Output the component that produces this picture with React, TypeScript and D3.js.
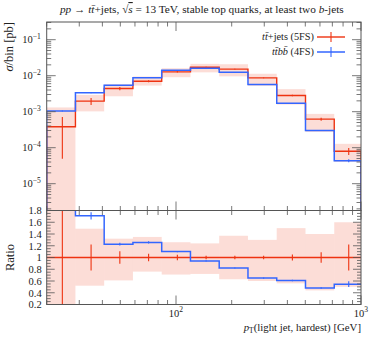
import React from "react";
import * as d3 from "d3";

// bin edges in pT [GeV]
const binEdges = [20, 28.6, 40.9, 58.5, 83.7, 119.7, 171.2, 244.9, 350.3, 501.1, 716.8, 1000];

// tt+jets (5FS), sigma/bin [pb]
const ttjets = [3.8e-4, 1.96e-3, 4.4e-3, 7.0e-3, 1.28e-2, 1.72e-2, 1.52e-2, 8.7e-3, 2.82e-3, 6.2e-4, 8.0e-5];
const ttjetsRelErr = [0.87, 0.22, 0.105, 0.062, 0.048, 0.03, 0.03, 0.03, 0.05, 0.09, 0.22];
// uncertainty band, relative to central value
const ttjetsBandLo = [0, 0.52, 0.61, 0.76, 0.71, 0.72, 0.63, 0.6, 0.56, 0.44, 0.5];
const ttjetsBandHi = [3.45, 1.49, 1.32, 1.35, 1.26, 1.24, 1.37, 1.3, 1.5, 1.4, 1.6];

// ttbb (4FS)
const ttbb = [1.05e-3, 3.35e-3, 5.4e-3, 8.8e-3, 1.41e-2, 1.62e-2, 1.25e-2, 5.65e-3, 1.72e-3, 2.98e-4, 4.36e-5];
const ttbbRelErr = [0.03, 0.036, 0.02, 0.015, 0.01, 0.01, 0.01, 0.015, 0.02, 0.03, 0.09];

const yTickExponents = [-1, -2, -3, -4, -5];
const ratioTickLabels = ["0.2", "0.4", "0.6", "0.8", "1", "1.2", "1.4", "1.6", "1.8"];
const xTickExponents = [2, 3];

const RED = "#EE3311";
const BLUE = "#3366FF";
const FRAME = "#555";
const FONT = "'Liberation Serif', 'DejaVu Serif', serif";

const L = 46.7, R = 361;
const mainTop = 22, mainBottom = 210.5;
const ratioTop = 210.5, ratioBottom = 304.5;

const x = d3.scaleLog().domain([20, 1000]).range([L, R]);
const y = d3.scaleLog().domain([1.8e-6, 0.31]).range([mainBottom, mainTop]);
const yr = d3.scaleLinear().domain([0.2, 1.8]).range([ratioBottom, ratioTop]);

const bins = ttjets.map((v, i) => ({ lo: binEdges[i], hi: binEdges[i + 1], mid: (binEdges[i] + binEdges[i + 1]) / 2 }));

const stepPoints = (vals: number[], base: number | null) => {
  const pts: [number, number][] = [];
  if (base !== null) pts.push([binEdges[0], base]);
  vals.forEach((v, i) => {
    pts.push([binEdges[i], v]);
    pts.push([binEdges[i + 1], v]);
  });
  if (base !== null) pts.push([binEdges[binEdges.length - 1], base]);
  return pts;
};

const floorV = 1e-9;
const lineMain = d3.line<[number, number]>().x((d) => x(d[0])).y((d) => y(Math.max(d[1], floorV)));
const lineRatio = d3.line<[number, number]>().x((d) => x(d[0])).y((d) => Math.max(Math.min(yr(d[1]), ratioBottom + 50), ratioTop - 50));

const ratioBlue = ttbb.map((v, i) => v / ttjets[i]);

const Sup = ({ base, exp, size }: { base: string; exp: string; size: number }) => (
  <>
    {base}
    <tspan dy={-size * 0.45} fontSize={size * 0.72}>{exp}</tspan>
  </>
);

const XTicks = ({ top, bottom }: { top: number; bottom: number }) => {
  const vals: number[] = [];
  [10, 100].forEach((dec) => {
    for (let m = 1; m <= 9; m++) {
      const v = dec * m;
      if (v >= 20 && v <= 1000) vals.push(v);
    }
  });
  vals.push(1000);
  return (
    <g stroke={FRAME} strokeWidth={0.8}>
      {vals.map((v) => {
        const major = Math.abs(Math.log10(v) % 1) < 1e-6;
        const len = major ? 9 : 4.5;
        return (
          <g key={v}>
            <line x1={x(v)} x2={x(v)} y1={top} y2={top + len} />
            <line x1={x(v)} x2={x(v)} y1={bottom} y2={bottom - len} />
          </g>
        );
      })}
    </g>
  );
};

const App = () => {
  const yTicks: { v: number; major: boolean }[] = [];
  for (let e = -6; e <= -1; e++) {
    for (let m = 1; m <= 9; m++) {
      const v = m * Math.pow(10, e);
      if (v >= 1.8e-6 && v <= 0.31) yTicks.push({ v, major: m === 1 });
    }
  }
  const ratioMinor = d3.range(0.2, 1.8001, 0.05);

  return (
    <svg width={374} height={337} style={{ position: "absolute", left: 0, top: 0, background: "#fff" }} fontFamily={FONT}>
      <defs>
        <clipPath id="clipMain">
          <rect x={L} y={mainTop} width={R - L} height={mainBottom - mainTop} />
        </clipPath>
        <clipPath id="clipRatio">
          <rect x={L} y={ratioTop} width={R - L} height={ratioBottom - ratioTop} />
        </clipPath>
      </defs>

      {/* title */}
      <text x={(L + R) / 2 - 2} y={13} textAnchor="middle" fontSize={11.3} fill="#222">
        <tspan fontStyle="italic">pp</tspan> → <tspan fontStyle="italic">t</tspan><tspan fontStyle="italic">t̄</tspan>+jets, √<tspan fontStyle="italic" textDecoration="overline">s</tspan> = 13 TeV, stable top quarks, at least two <tspan fontStyle="italic">b</tspan>-jets
      </text>

      {/* main panel */}
      <g clipPath="url(#clipMain)">
        {bins.map((b, i) => (
          <rect key={i} x={x(b.lo)} width={x(b.hi) - x(b.lo)}
            y={y(ttjets[i] * ttjetsBandHi[i])}
            height={y(Math.max(ttjets[i] * ttjetsBandLo[i], floorV)) - y(ttjets[i] * ttjetsBandHi[i])}
            fill={RED} fillOpacity={0.17} />
        ))}
        <path d={lineMain(stepPoints(ttjets, floorV)) || ""} fill="none" stroke={RED} strokeWidth={1.4} />
        {bins.map((b, i) => (
          <line key={i} x1={x(b.mid)} x2={x(b.mid)} y1={y(ttjets[i] * (1 + ttjetsRelErr[i]))}
            y2={y(Math.max(ttjets[i] * (1 - ttjetsRelErr[i]), floorV))} stroke={RED} strokeWidth={1.1} />
        ))}
        <path d={lineMain(stepPoints(ttbb, floorV)) || ""} fill="none" stroke={BLUE} strokeWidth={1.5} />
        {bins.map((b, i) => (
          <line key={i} x1={x(b.mid)} x2={x(b.mid)} y1={y(ttbb[i] * (1 + ttbbRelErr[i]))}
            y2={y(ttbb[i] * (1 - ttbbRelErr[i]))} stroke={BLUE} strokeWidth={1.1} />
        ))}
      </g>

      {/* ratio panel */}
      <g clipPath="url(#clipRatio)">
        {bins.map((b, i) => (
          <rect key={i} x={x(b.lo)} width={x(b.hi) - x(b.lo)}
            y={Math.max(yr(ttjetsBandHi[i]), ratioTop - 5)}
            height={Math.min(yr(ttjetsBandLo[i]), ratioBottom + 5) - Math.max(yr(ttjetsBandHi[i]), ratioTop - 5)}
            fill={RED} fillOpacity={0.17} />
        ))}
        <path d={lineRatio(stepPoints(ttjets.map(() => 1), null)) || ""} fill="none" stroke={RED} strokeWidth={1.4} />
        {bins.map((b, i) => (
          <line key={i} x1={x(b.mid)} x2={x(b.mid)} y1={Math.max(yr(1 + ttjetsRelErr[i]), ratioTop - 5)}
            y2={Math.min(yr(1 - ttjetsRelErr[i]), ratioBottom + 5)} stroke={RED} strokeWidth={1.1} />
        ))}
        <path d={lineRatio(stepPoints(ratioBlue, null)) || ""} fill="none" stroke={BLUE} strokeWidth={1.5} />
        {bins.map((b, i) => (
          <line key={i} x1={x(b.mid)} x2={x(b.mid)} y1={yr(ratioBlue[i] * (1 + ttbbRelErr[i]))}
            y2={yr(ratioBlue[i] * (1 - ttbbRelErr[i]))} stroke={BLUE} strokeWidth={1.1} />
        ))}
      </g>

      {/* main y ticks */}
      <g stroke={FRAME} strokeWidth={0.8}>
        {yTicks.map((t, i) => {
          const len = t.major ? 9 : 4.5;
          return (
            <g key={i}>
              <line x1={L} x2={L + len} y1={y(t.v)} y2={y(t.v)} />
              <line x1={R} x2={R - len} y1={y(t.v)} y2={y(t.v)} />
            </g>
          );
        })}
      </g>
      {yTickExponents.map((e) => (
        <text key={e} x={L - 6} y={y(Math.pow(10, e)) + 3.8} textAnchor="end" fontSize={10.5} fill="#222">
          <Sup base="10" exp={`−${-e}`} size={10.5} />
        </text>
      ))}

      {/* ratio y ticks */}
      <g stroke={FRAME} strokeWidth={0.8}>
        {ratioMinor.map((v, i) => {
          const major = i % 4 === 0;
          const len = major ? 8 : 4;
          return (
            <g key={i}>
              <line x1={L} x2={L + len} y1={yr(v)} y2={yr(v)} />
              <line x1={R} x2={R - len} y1={yr(v)} y2={yr(v)} />
            </g>
          );
        })}
      </g>
      {ratioTickLabels.map((s) => (
        <text key={s} x={L - 5} y={yr(+s) + 3.8} textAnchor="end" fontSize={10.5} fill="#222">{s}</text>
      ))}

      <XTicks top={mainTop} bottom={mainBottom} />
      <XTicks top={ratioTop} bottom={ratioBottom} />
      {xTickExponents.map((e) => (
        <text key={e} x={x(Math.pow(10, e))} y={317} textAnchor="middle" fontSize={10.5} fill="#222">
          <Sup base="10" exp={`${e}`} size={10.5} />
        </text>
      ))}

      {/* frames */}
      <rect x={L} y={mainTop} width={R - L} height={mainBottom - mainTop} fill="none" stroke={FRAME} strokeWidth={1} />
      <rect x={L} y={ratioTop} width={R - L} height={ratioBottom - ratioTop} fill="none" stroke={FRAME} strokeWidth={1} />

      {/* axis labels */}
      <text transform={`translate(13,${mainTop}) rotate(-90)`} textAnchor="end" fontSize={12.5} fill="#222">
        <tspan fontStyle="italic">σ</tspan>/bin [pb]
      </text>
      <text transform={`translate(14,${yr(1)}) rotate(-90)`} textAnchor="middle" fontSize={12.5} fill="#222">Ratio</text>
      <text x={R} y={331} textAnchor="end" fontSize={10.8} fill="#222">
        <tspan fontStyle="italic">p</tspan><tspan fontSize={7.5} dy={2}>T</tspan><tspan dy={-2}>(light jet, hardest) [GeV]</tspan>
      </text>

      {/* legend */}
      <g fontSize={10.3} fill="#222">
        <text x={314} y={40} textAnchor="end">
          <tspan fontStyle="italic">t</tspan><tspan fontStyle="italic">t̄</tspan>+jets (5FS)
        </text>
        <line x1={317} x2={345} y1={37} y2={37} stroke={RED} strokeWidth={1.4} />
        <line x1={331} x2={331} y1={32} y2={42} stroke={RED} strokeWidth={1.1} />
        <text x={314} y={55} textAnchor="end">
          <tspan fontStyle="italic">tt̄bb̄</tspan> (4FS)
        </text>
        <line x1={317} x2={345} y1={52} y2={52} stroke={BLUE} strokeWidth={1.5} />
        <line x1={331} x2={331} y1={47} y2={57} stroke={BLUE} strokeWidth={1.1} />
      </g>
    </svg>
  );
};

export default App;
